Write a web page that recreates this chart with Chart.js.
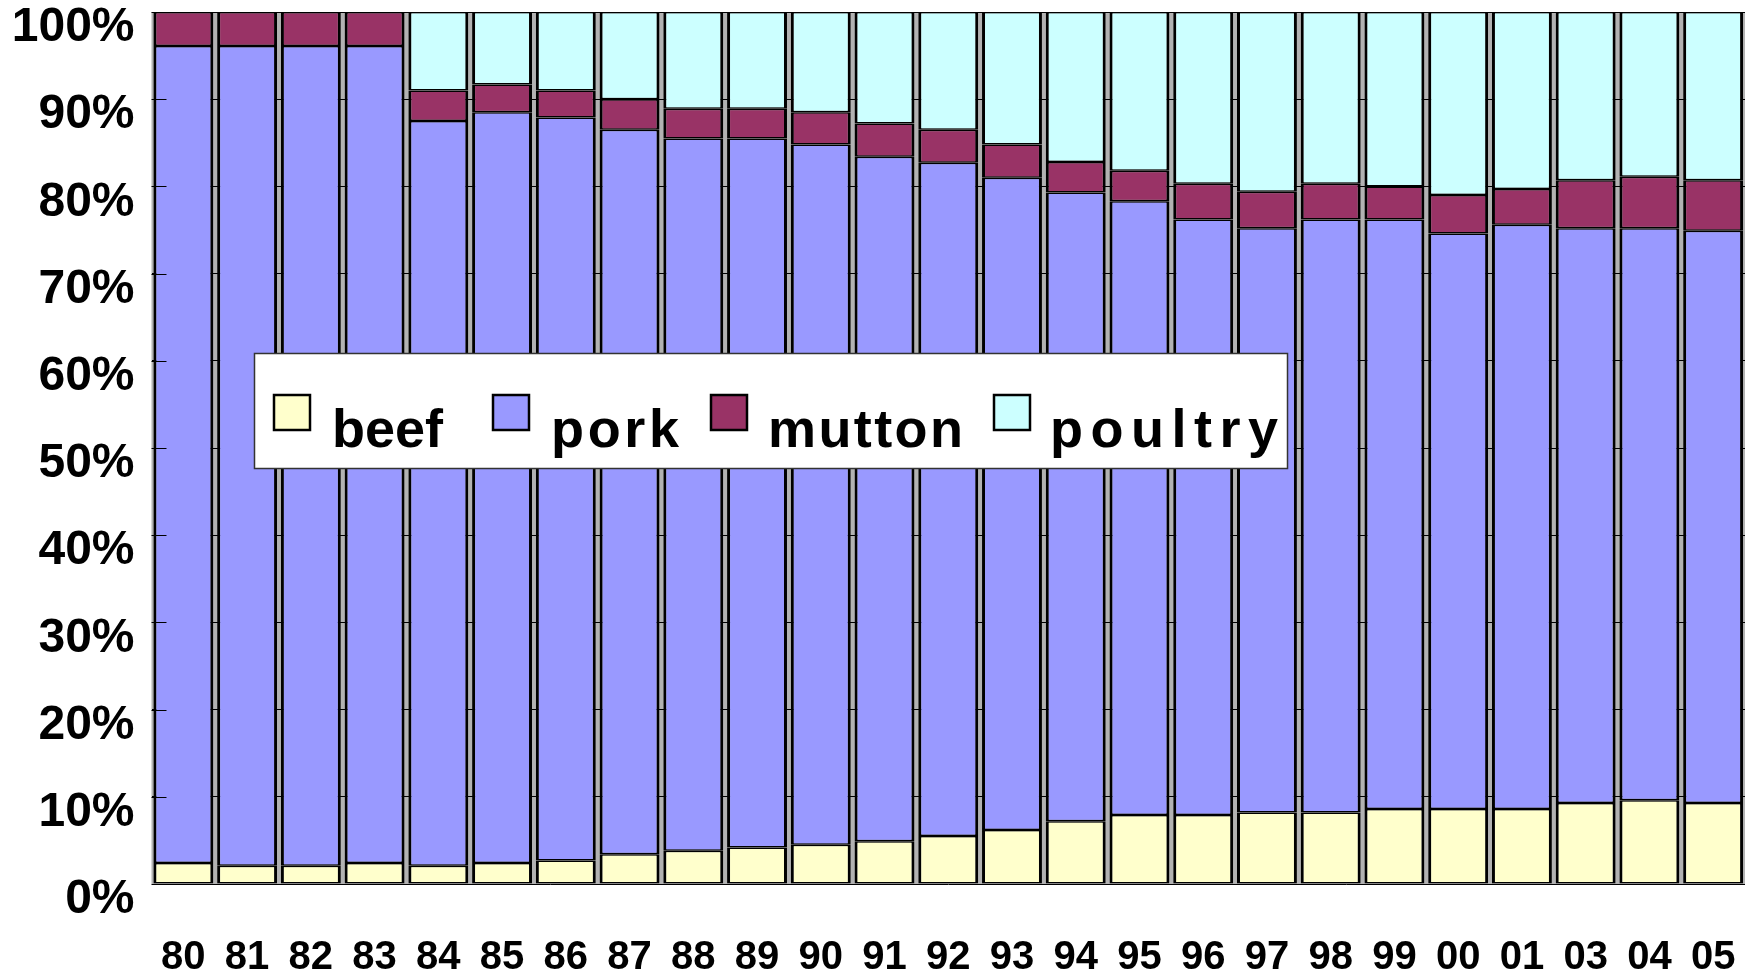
<!DOCTYPE html>
<html lang="en">
<head>
<meta charset="utf-8">
<title>Meat consumption structure</title>
<script src="https://cdn.jsdelivr.net/npm/chart.js@4.4.1/dist/chart.umd.min.js"></script>
<style>
    html, body { margin: 0; padding: 0; background: #ffffff; }
    #chartWrap { width: 1755px; height: 969px; }
</style>
</head>
<body>
<div id="chartWrap"><canvas id="meatChart" width="1755" height="969"></canvas></div>
<script>
// ======================================
// CHART DATA (share of each meat, %)
// ======================================

const categories = ['80', '81', '82', '83', '84', '85', '86', '87', '88', '89', '90', '91', '92',
    '93', '94', '95', '96', '97', '98', '99', '00', '01', '03', '04', '05'];

const beef = [2.4, 2.1, 2.1, 2.4, 2.1, 2.4, 2.7, 3.4, 3.8, 4.2, 4.5, 4.9, 5.5,
    6.2, 7.2, 7.9, 7.9, 8.2, 8.2, 8.6, 8.6, 8.6, 9.3, 9.6, 9.3];

const pork = [93.7, 94.0, 94.0, 93.7, 85.4, 86.1, 85.2, 83.1, 81.7, 81.3, 80.3, 78.5, 77.2,
    74.8, 72.1, 70.4, 68.3, 67.0, 68.0, 67.6, 66.0, 67.0, 65.9, 65.6, 65.6];

const mutton = [3.9, 3.9, 3.9, 3.9, 3.5, 3.2, 3.1, 3.5, 3.4, 3.4, 3.7, 3.8, 3.8,
    3.8, 3.5, 3.5, 4.1, 4.2, 4.1, 3.8, 4.4, 4.1, 5.5, 5.9, 5.8];

const poultry = [0, 0, 0, 0, 9.0, 8.3, 9.0, 10.0, 11.1, 11.1, 11.5, 12.8, 13.5,
    15.2, 17.2, 18.2, 19.7, 20.6, 19.7, 20.0, 21.0, 20.3, 19.3, 18.9, 19.3];

const seriesNames = ['beef', 'pork', 'mutton', 'poultry'];

// Palette classica stile Excel
const SERIES_COLORS = ['#FFFFCC', '#9999FF', '#993366', '#CCFFFF'];

const FONT_FAMILY = '"Liberation Sans", Arial, Helvetica, sans-serif';

// ======================================
// PLUGINS
// ======================================

/**
 * Grey plot area behind the bars
 */
const plotBackground = {
    id: 'plotBackground',
    beforeDraw(chart) {
        const { ctx, chartArea: a } = chart;
        ctx.save();
        ctx.fillStyle = '#b2b2b2';
        ctx.fillRect(a.left, a.top, a.right - a.left, a.bottom - a.top);
        ctx.restore();
    }
};

/**
 * Short tick marks pointing into the plot, drawn on top of the bars
 */
const innerTicks = {
    id: 'innerTicks',
    afterDatasetsDraw(chart) {
        const { ctx, chartArea: a, scales } = chart;
        const y = scales.y;
        ctx.save();
        ctx.strokeStyle = '#000000';
        ctx.lineWidth = 1;
        y.ticks.forEach(t => {
            const py = Math.round(y.getPixelForValue(t.value)) + 0.5;
            ctx.beginPath();
            ctx.moveTo(a.left, py);
            ctx.lineTo(a.left + 15, py);
            ctx.stroke();
        });
        ctx.restore();
    }
};

/**
 * Boxed legend floating over the plot
 */
const boxLegend = {
    id: 'boxLegend',
    afterDraw(chart) {
        const { ctx } = chart;
        const box = { x: 254.5, y: 353.5, w: 1033, h: 115 };
        const itemX = [274, 493, 711, 994];
        const textX = [332, 551, 768, 1050];
        const textW = [110, 128, 195, 228];

        ctx.save();
        ctx.fillStyle = '#ffffff';
        ctx.fillRect(box.x, box.y, box.w, box.h);
        ctx.strokeStyle = '#333333';
        ctx.lineWidth = 1.5;
        ctx.strokeRect(box.x, box.y, box.w, box.h);

        ctx.font = 'bold 54px ' + FONT_FAMILY;
        ctx.textBaseline = 'alphabetic';
        ctx.textAlign = 'left';
        chart.data.datasets.forEach((ds, i) => {
            ctx.fillStyle = ds.backgroundColor;
            ctx.fillRect(itemX[i], 395, 36, 35);
            ctx.strokeStyle = '#000000';
            ctx.lineWidth = 2.5;
            ctx.strokeRect(itemX[i], 395, 36, 35);

            // spaziatura per avvicinare la larghezza del testo originale
            ctx.letterSpacing = '0px';
            const natural = ctx.measureText(ds.label).width;
            const extra = Math.max(0, (textW[i] - natural) / Math.max(1, ds.label.length - 1));
            ctx.letterSpacing = extra.toFixed(2) + 'px';
            ctx.fillStyle = '#000000';
            ctx.fillText(ds.label, textX[i], 447);
        });
        ctx.restore();
    }
};

// ======================================
// CHART OPTIONS
// ======================================

const seriesValues = [beef, pork, mutton, poultry];

const datasets = seriesNames.map((name, i) => ({
    label: name,
    data: seriesValues[i],
    backgroundColor: SERIES_COLORS[i],
    borderColor: '#000000',
    borderWidth: { left: 3, right: 3, top: 1.5, bottom: 1.5 },
    borderSkipped: false,
    categoryPercentage: 1.0,
    barPercentage: 0.94
}));

const options = {
    responsive: false,
    animation: false,
    layout: { padding: { top: 12, right: 10, left: 0, bottom: 0 } },
    plugins: {
        legend: { display: false },
        title: { display: false },
        tooltip: { enabled: false }
    },
    scales: {
        x: {
            stacked: true,
            grid: { display: false },
            border: { display: false },
            ticks: {
                color: '#000000',
                padding: 42,
                maxRotation: 0,
                autoSkip: false,
                font: { family: FONT_FAMILY, size: 40, weight: 'bold', lineHeight: 1.2 }
            },
            afterFit(scale) {
                scale.height = 85;
                scale.paddingLeft = 0;
                scale.paddingRight = 0;
            }
        },
        y: {
            stacked: true,
            min: 0,
            max: 100,
            grid: { color: '#000000', lineWidth: 1, drawTicks: false },
            border: { display: false },
            ticks: {
                stepSize: 10,
                color: '#000000',
                padding: 17,
                labelOffset: 16,
                font: { family: FONT_FAMILY, size: 48, weight: 'bold' },
                callback: value => value + '%'
            },
            afterFit(scale) {
                scale.width = 151.5;
                scale.paddingTop = 0;
                scale.paddingBottom = 0;
            }
        }
    }
};

// ======================================
// CHART INITIALIZATION
// ======================================
document.addEventListener('DOMContentLoaded', function() {
    const ctx = document.getElementById('meatChart').getContext('2d');
    new Chart(ctx, {
        type: 'bar',
        data: { labels: categories, datasets },
        options,
        plugins: [plotBackground, innerTicks, boxLegend]
    });
});
</script>
</body>
</html>
